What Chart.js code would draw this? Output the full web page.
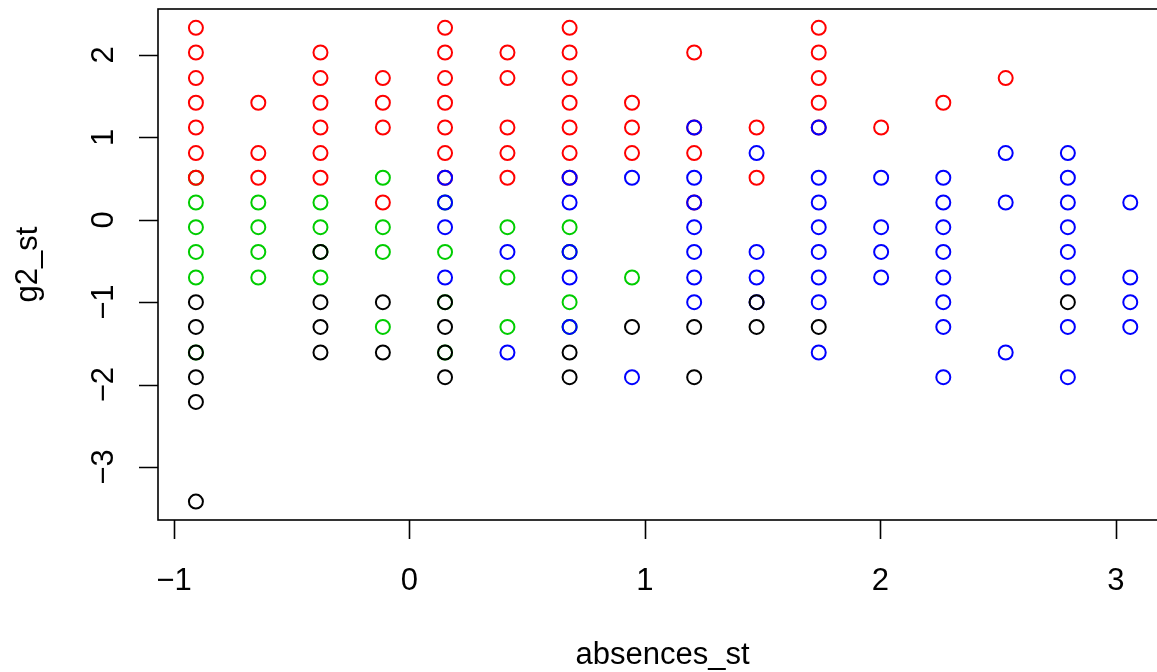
<!DOCTYPE html>
<html>
<head>
<meta charset="utf-8">
<script src="https://cdn.jsdelivr.net/npm/chart.js@4/dist/chart.umd.min.js"></script>
<style>
  html, body { margin: 0; padding: 0; background: #fff; overflow: hidden; }
  #wrap { width: 1157px; height: 672px; overflow: hidden; position: relative; }
  canvas { display: block; }
</style>
</head>
<body>
<div id="wrap"><canvas id="c" width="1200" height="672" style="width:1200px;height:672px"></canvas></div>
<script>
// ---- Data ----
const xTickValues = [-1, 0, 1, 2, 3];
const xTickLabels = ['\u22121', '0', '1', '2', '3'];
const yTickValues = [-3, -2, -1, 0, 1, 2];
const yTickLabels = ['\u22123', '\u22122', '\u22121', '0', '1', '2'];
const xTitle = 'absences_st';
const yTitle = 'g2_st';

// cluster 1 (black)
const blackX = [-0.907,-0.907,-0.907,-0.907,-0.907,-0.907, -0.378,-0.378,-0.378,-0.378, -0.113,-0.113, 0.151,0.151,0.151,0.151, 0.680,0.680, 0.945, 1.209,1.209, 1.474,1.474, 1.738, 2.796];
const blackY = [-1.00,-1.30,-1.61,-1.91,-2.21,-3.42, -0.39,-1.00,-1.30,-1.61, -1.00,-1.61, -1.00,-1.30,-1.61,-1.91, -1.61,-1.91, -1.30, -1.30,-1.91, -1.00,-1.30, -1.30, -1.00];

// cluster 2 (green)
const greenX = [-0.907,-0.907,-0.907,-0.907,-0.907,-0.907, -0.642,-0.642,-0.642,-0.642, -0.378,-0.378,-0.378,-0.378, -0.113,-0.113,-0.113,-0.113, 0.151,0.151,0.151,0.151, 0.416,0.416,0.416, 0.680,0.680,0.680,0.680, 0.945];
const greenY = [0.51,0.21,-0.09,-0.39,-0.70,-1.61, 0.21,-0.09,-0.39,-0.70, 0.21,-0.09,-0.39,-0.70, 0.51,-0.09,-0.39,-1.30, 0.21,-0.39,-1.00,-1.61, -0.09,-0.70,-1.30, -0.09,-0.39,-1.00,-1.30, -0.70];

// cluster 3 (blue)
const blueX = [0.151,0.151,0.151,0.151, 0.416,0.416, 0.680,0.680,0.680,0.680,0.680, 0.945,0.945,
  1.209,1.209,1.209,1.209,1.209,1.209,1.209, 1.474,1.474,1.474,1.474,
  1.738,1.738,1.738,1.738,1.738,1.738,1.738,1.738, 2.003,2.003,2.003,2.003,
  2.267,2.267,2.267,2.267,2.267,2.267,2.267,2.267, 2.532,2.532,2.532,
  2.796,2.796,2.796,2.796,2.796,2.796,2.796,2.796, 3.061,3.061,3.061,3.061];
const blueY = [0.51,0.21,-0.09,-0.70, -0.39,-1.61, 0.51,0.21,-0.39,-0.70,-1.30, 0.51,-1.91,
  1.12,0.51,0.21,-0.09,-0.39,-0.70,-1.00, 0.81,-0.39,-0.70,-1.00,
  1.12,0.51,0.21,-0.09,-0.39,-0.70,-1.00,-1.61, 0.51,-0.09,-0.39,-0.70,
  0.51,0.21,-0.09,-0.39,-0.70,-1.00,-1.30,-1.91, 0.81,0.21,-1.61,
  0.81,0.51,0.21,-0.09,-0.39,-0.70,-1.30,-1.91, 0.21,-0.70,-1.00,-1.30];

// cluster 4 (red)
const redX = [-0.907,-0.907,-0.907,-0.907,-0.907,-0.907,-0.907, -0.642,-0.642,-0.642,
  -0.378,-0.378,-0.378,-0.378,-0.378,-0.378, -0.113,-0.113,-0.113,-0.113,
  0.151,0.151,0.151,0.151,0.151,0.151,0.151, 0.416,0.416,0.416,0.416,0.416,
  0.680,0.680,0.680,0.680,0.680,0.680,0.680, 0.945,0.945,0.945,
  1.209,1.209,1.209,1.209, 1.474,1.474, 1.738,1.738,1.738,1.738,1.738, 2.003, 2.267, 2.532];
const redY = [2.33,2.03,1.72,1.42,1.12,0.81,0.51, 1.42,0.81,0.51,
  2.03,1.72,1.42,1.12,0.81,0.51, 1.72,1.42,1.12,0.21,
  2.33,2.03,1.72,1.42,1.12,0.81,0.51, 2.03,1.72,1.12,0.81,0.51,
  2.33,2.03,1.72,1.42,1.12,0.81,0.51, 1.42,1.12,0.81,
  2.03,1.12,0.81,0.21, 1.12,0.51, 2.33,2.03,1.72,1.42,1.12, 1.12, 1.42, 1.72];

const toPts = (xs, ys) => xs.map((x, i) => ({ x: x, y: ys[i] }));

const FONT = '"Liberation Sans", Arial, Helvetica, sans-serif';

const rAxes = {
  id: 'rAxes',
  afterDraw(chart) {
    const ctx = chart.ctx;
    const a = chart.chartArea;
    const xs = chart.scales.x, ys = chart.scales.y;
    ctx.save();
    ctx.strokeStyle = '#000';
    ctx.lineWidth = 1.6;
    ctx.strokeRect(a.left, a.top, a.right - a.left, a.bottom - a.top);
    const tl = 19;
    ctx.beginPath();
    xTickValues.forEach(v => {
      const p = Math.round(xs.getPixelForValue(v)) + 0.5;
      ctx.moveTo(p, a.bottom); ctx.lineTo(p, a.bottom + tl);
    });
    yTickValues.forEach(v => {
      const p = Math.round(ys.getPixelForValue(v)) + 0.5;
      ctx.moveTo(a.left, p); ctx.lineTo(a.left - tl, p);
    });
    ctx.stroke();
    ctx.fillStyle = '#000';
    ctx.font = '31px ' + FONT;
    ctx.textAlign = 'center';
    ctx.textBaseline = 'alphabetic';
    xTickValues.forEach((v, i) => {
      ctx.fillText(xTickLabels[i], xs.getPixelForValue(v), 590);
    });
    yTickValues.forEach((v, i) => {
      ctx.save();
      ctx.translate(113, ys.getPixelForValue(v));
      ctx.rotate(-Math.PI / 2);
      ctx.fillText(yTickLabels[i], 0, 0);
      ctx.restore();
    });
    ctx.fillText(xTitle, (a.left + a.right) / 2, 664);
    ctx.save();
    ctx.translate(37, (a.top + a.bottom) / 2);
    ctx.rotate(-Math.PI / 2);
    ctx.fillText(yTitle, 0, 0);
    ctx.restore();
    ctx.restore();
  }
};

const mk = (label, xs, ys, color) => ({
  label: label,
  data: toPts(xs, ys),
  showLine: false,
  pointStyle: 'circle',
  pointRadius: 7,
  pointHoverRadius: 7,
  pointBorderWidth: 2,
  pointBackgroundColor: 'rgba(0,0,0,0)',
  borderColor: color,
  pointBorderColor: color,
  clip: false
});

// Chart.js draws the first dataset last (on top)
new Chart(document.getElementById('c'), {
  type: 'scatter',
  data: {
    datasets: [
      mk('1', blackX, blackY, '#000000'),
      mk('3', blueX, blueY, '#0000FF'),
      mk('4', redX, redY, '#FF0000'),
      mk('2', greenX, greenY, '#00CD00')
    ]
  },
  options: {
    responsive: false,
    animation: false,
    devicePixelRatio: 1,
    layout: { padding: { left: 158, right: 33, top: 9, bottom: 152 } },
    plugins: { legend: { display: false }, tooltip: { enabled: false } },
    scales: {
      x: { type: 'linear', display: false, min: -1.068, max: 3.217 },
      y: { type: 'linear', display: false, min: -3.643, max: 2.558 }
    }
  },
  plugins: [rAxes]
});
</script>
</body>
</html>
